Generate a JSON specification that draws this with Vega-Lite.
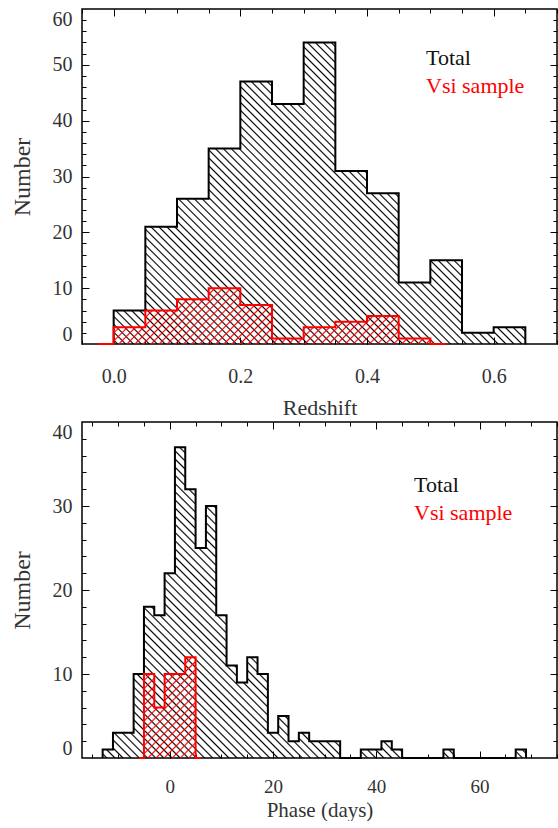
{
"$schema":"https://vega.github.io/schema/vega-lite/v6.json",
"background":"white",
"padding":{"left":9,"top":7,"right":0,"bottom":0},
"params":[
{"name":"hk","value":{"gradient":"linear","x1":0,"y1":1,"x2":1.1273,"y2":0.1737,"stops":[
{"offset":0.0034,"color":"#0000"},{"offset":0.0056,"color":"#000"},{"offset":0.0078,"color":"#0000"},{"offset":0.0145,"color":"#0000"},{"offset":0.0167,"color":"#000"},{"offset":0.0189,"color":"#0000"},{"offset":0.0256,"color":"#0000"},{"offset":0.0278,"color":"#000"},{"offset":0.03,"color":"#0000"},{"offset":0.0367,"color":"#0000"},{"offset":0.0389,"color":"#000"},{"offset":0.0411,"color":"#0000"},{"offset":0.0478,"color":"#0000"},{"offset":0.05,"color":"#000"},{"offset":0.0522,"color":"#0000"},{"offset":0.0589,"color":"#0000"},{"offset":0.0611,"color":"#000"},{"offset":0.0633,"color":"#0000"},{"offset":0.07,"color":"#0000"},{"offset":0.0722,"color":"#000"},{"offset":0.0744,"color":"#0000"},{"offset":0.0811,"color":"#0000"},{"offset":0.0833,"color":"#000"},{"offset":0.0855,"color":"#0000"},{"offset":0.0922,"color":"#0000"},{"offset":0.0944,"color":"#000"},{"offset":0.0966,"color":"#0000"},
{"offset":0.1034,"color":"#0000"},{"offset":0.1056,"color":"#000"},{"offset":0.1078,"color":"#0000"},{"offset":0.1145,"color":"#0000"},{"offset":0.1167,"color":"#000"},{"offset":0.1189,"color":"#0000"},{"offset":0.1256,"color":"#0000"},{"offset":0.1278,"color":"#000"},{"offset":0.13,"color":"#0000"},{"offset":0.1367,"color":"#0000"},{"offset":0.1389,"color":"#000"},{"offset":0.1411,"color":"#0000"},{"offset":0.1478,"color":"#0000"},{"offset":0.15,"color":"#000"},{"offset":0.1522,"color":"#0000"},{"offset":0.1589,"color":"#0000"},{"offset":0.1611,"color":"#000"},{"offset":0.1633,"color":"#0000"},{"offset":0.17,"color":"#0000"},{"offset":0.1722,"color":"#000"},{"offset":0.1744,"color":"#0000"},{"offset":0.1811,"color":"#0000"},{"offset":0.1833,"color":"#000"},{"offset":0.1855,"color":"#0000"},{"offset":0.1922,"color":"#0000"},{"offset":0.1944,"color":"#000"},{"offset":0.1966,"color":"#0000"},
{"offset":0.2034,"color":"#0000"},{"offset":0.2056,"color":"#000"},{"offset":0.2078,"color":"#0000"},{"offset":0.2145,"color":"#0000"},{"offset":0.2167,"color":"#000"},{"offset":0.2189,"color":"#0000"},{"offset":0.2256,"color":"#0000"},{"offset":0.2278,"color":"#000"},{"offset":0.23,"color":"#0000"},{"offset":0.2367,"color":"#0000"},{"offset":0.2389,"color":"#000"},{"offset":0.2411,"color":"#0000"},{"offset":0.2478,"color":"#0000"},{"offset":0.25,"color":"#000"},{"offset":0.2522,"color":"#0000"},{"offset":0.2589,"color":"#0000"},{"offset":0.2611,"color":"#000"},{"offset":0.2633,"color":"#0000"},{"offset":0.27,"color":"#0000"},{"offset":0.2722,"color":"#000"},{"offset":0.2744,"color":"#0000"},{"offset":0.2811,"color":"#0000"},{"offset":0.2833,"color":"#000"},{"offset":0.2855,"color":"#0000"},{"offset":0.2922,"color":"#0000"},{"offset":0.2944,"color":"#000"},{"offset":0.2966,"color":"#0000"},
{"offset":0.3034,"color":"#0000"},{"offset":0.3056,"color":"#000"},{"offset":0.3078,"color":"#0000"},{"offset":0.3145,"color":"#0000"},{"offset":0.3167,"color":"#000"},{"offset":0.3189,"color":"#0000"},{"offset":0.3256,"color":"#0000"},{"offset":0.3278,"color":"#000"},{"offset":0.33,"color":"#0000"},{"offset":0.3367,"color":"#0000"},{"offset":0.3389,"color":"#000"},{"offset":0.3411,"color":"#0000"},{"offset":0.3478,"color":"#0000"},{"offset":0.35,"color":"#000"},{"offset":0.3522,"color":"#0000"},{"offset":0.3589,"color":"#0000"},{"offset":0.3611,"color":"#000"},{"offset":0.3633,"color":"#0000"},{"offset":0.37,"color":"#0000"},{"offset":0.3722,"color":"#000"},{"offset":0.3744,"color":"#0000"},{"offset":0.3811,"color":"#0000"},{"offset":0.3833,"color":"#000"},{"offset":0.3855,"color":"#0000"},{"offset":0.3922,"color":"#0000"},{"offset":0.3944,"color":"#000"},{"offset":0.3966,"color":"#0000"},
{"offset":0.4034,"color":"#0000"},{"offset":0.4056,"color":"#000"},{"offset":0.4078,"color":"#0000"},{"offset":0.4145,"color":"#0000"},{"offset":0.4167,"color":"#000"},{"offset":0.4189,"color":"#0000"},{"offset":0.4256,"color":"#0000"},{"offset":0.4278,"color":"#000"},{"offset":0.43,"color":"#0000"},{"offset":0.4367,"color":"#0000"},{"offset":0.4389,"color":"#000"},{"offset":0.4411,"color":"#0000"},{"offset":0.4478,"color":"#0000"},{"offset":0.45,"color":"#000"},{"offset":0.4522,"color":"#0000"},{"offset":0.4589,"color":"#0000"},{"offset":0.4611,"color":"#000"},{"offset":0.4633,"color":"#0000"},{"offset":0.47,"color":"#0000"},{"offset":0.4722,"color":"#000"},{"offset":0.4744,"color":"#0000"},{"offset":0.4811,"color":"#0000"},{"offset":0.4833,"color":"#000"},{"offset":0.4855,"color":"#0000"},{"offset":0.4922,"color":"#0000"},{"offset":0.4944,"color":"#000"},{"offset":0.4966,"color":"#0000"},
{"offset":0.5034,"color":"#0000"},{"offset":0.5056,"color":"#000"},{"offset":0.5078,"color":"#0000"},{"offset":0.5145,"color":"#0000"},{"offset":0.5167,"color":"#000"},{"offset":0.5189,"color":"#0000"},{"offset":0.5256,"color":"#0000"},{"offset":0.5278,"color":"#000"},{"offset":0.53,"color":"#0000"},{"offset":0.5367,"color":"#0000"},{"offset":0.5389,"color":"#000"},{"offset":0.5411,"color":"#0000"},{"offset":0.5478,"color":"#0000"},{"offset":0.55,"color":"#000"},{"offset":0.5522,"color":"#0000"},{"offset":0.5589,"color":"#0000"},{"offset":0.5611,"color":"#000"},{"offset":0.5633,"color":"#0000"},{"offset":0.57,"color":"#0000"},{"offset":0.5722,"color":"#000"},{"offset":0.5744,"color":"#0000"},{"offset":0.5811,"color":"#0000"},{"offset":0.5833,"color":"#000"},{"offset":0.5855,"color":"#0000"},{"offset":0.5922,"color":"#0000"},{"offset":0.5944,"color":"#000"},{"offset":0.5966,"color":"#0000"},
{"offset":0.6034,"color":"#0000"},{"offset":0.6056,"color":"#000"},{"offset":0.6078,"color":"#0000"},{"offset":0.6145,"color":"#0000"},{"offset":0.6167,"color":"#000"},{"offset":0.6189,"color":"#0000"},{"offset":0.6256,"color":"#0000"},{"offset":0.6278,"color":"#000"},{"offset":0.63,"color":"#0000"},{"offset":0.6367,"color":"#0000"},{"offset":0.6389,"color":"#000"},{"offset":0.6411,"color":"#0000"},{"offset":0.6478,"color":"#0000"},{"offset":0.65,"color":"#000"},{"offset":0.6522,"color":"#0000"},{"offset":0.6589,"color":"#0000"},{"offset":0.6611,"color":"#000"},{"offset":0.6633,"color":"#0000"},{"offset":0.67,"color":"#0000"},{"offset":0.6722,"color":"#000"},{"offset":0.6744,"color":"#0000"},{"offset":0.6811,"color":"#0000"},{"offset":0.6833,"color":"#000"},{"offset":0.6855,"color":"#0000"},{"offset":0.6922,"color":"#0000"},{"offset":0.6944,"color":"#000"},{"offset":0.6966,"color":"#0000"},
{"offset":0.7034,"color":"#0000"},{"offset":0.7056,"color":"#000"},{"offset":0.7078,"color":"#0000"},{"offset":0.7145,"color":"#0000"},{"offset":0.7167,"color":"#000"},{"offset":0.7189,"color":"#0000"},{"offset":0.7256,"color":"#0000"},{"offset":0.7278,"color":"#000"},{"offset":0.73,"color":"#0000"},{"offset":0.7367,"color":"#0000"},{"offset":0.7389,"color":"#000"},{"offset":0.7411,"color":"#0000"},{"offset":0.7478,"color":"#0000"},{"offset":0.75,"color":"#000"},{"offset":0.7522,"color":"#0000"},{"offset":0.7589,"color":"#0000"},{"offset":0.7611,"color":"#000"},{"offset":0.7633,"color":"#0000"},{"offset":0.77,"color":"#0000"},{"offset":0.7722,"color":"#000"},{"offset":0.7744,"color":"#0000"},{"offset":0.7811,"color":"#0000"},{"offset":0.7833,"color":"#000"},{"offset":0.7855,"color":"#0000"},{"offset":0.7922,"color":"#0000"},{"offset":0.7944,"color":"#000"},{"offset":0.7966,"color":"#0000"},
{"offset":0.8034,"color":"#0000"},{"offset":0.8056,"color":"#000"},{"offset":0.8078,"color":"#0000"},{"offset":0.8145,"color":"#0000"},{"offset":0.8167,"color":"#000"},{"offset":0.8189,"color":"#0000"},{"offset":0.8256,"color":"#0000"},{"offset":0.8278,"color":"#000"},{"offset":0.83,"color":"#0000"},{"offset":0.8367,"color":"#0000"},{"offset":0.8389,"color":"#000"},{"offset":0.8411,"color":"#0000"},{"offset":0.8478,"color":"#0000"},{"offset":0.85,"color":"#000"},{"offset":0.8522,"color":"#0000"},{"offset":0.8589,"color":"#0000"},{"offset":0.8611,"color":"#000"},{"offset":0.8633,"color":"#0000"},{"offset":0.87,"color":"#0000"},{"offset":0.8722,"color":"#000"},{"offset":0.8744,"color":"#0000"},{"offset":0.8811,"color":"#0000"},{"offset":0.8833,"color":"#000"},{"offset":0.8855,"color":"#0000"},{"offset":0.8922,"color":"#0000"},{"offset":0.8944,"color":"#000"},{"offset":0.8966,"color":"#0000"},
{"offset":0.9034,"color":"#0000"},{"offset":0.9056,"color":"#000"},{"offset":0.9078,"color":"#0000"},{"offset":0.9145,"color":"#0000"},{"offset":0.9167,"color":"#000"},{"offset":0.9189,"color":"#0000"},{"offset":0.9256,"color":"#0000"},{"offset":0.9278,"color":"#000"},{"offset":0.93,"color":"#0000"},{"offset":0.9367,"color":"#0000"},{"offset":0.9389,"color":"#000"},{"offset":0.9411,"color":"#0000"},{"offset":0.9478,"color":"#0000"},{"offset":0.95,"color":"#000"},{"offset":0.9522,"color":"#0000"},{"offset":0.9589,"color":"#0000"},{"offset":0.9611,"color":"#000"},{"offset":0.9633,"color":"#0000"},{"offset":0.97,"color":"#0000"},{"offset":0.9722,"color":"#000"},{"offset":0.9744,"color":"#0000"},{"offset":0.9811,"color":"#0000"},{"offset":0.9833,"color":"#000"},{"offset":0.9855,"color":"#0000"},{"offset":0.9922,"color":"#0000"},{"offset":0.9944,"color":"#000"},{"offset":0.9966,"color":"#0000"}
]}},
{"name":"hr1","value":{"gradient":"linear","x1":0,"y1":0,"x2":1.1312,"y2":0.1813,"stops":[
{"offset":0.006,"color":"#f000"},{"offset":0.01,"color":"#f00"},{"offset":0.014,"color":"#f000"},{"offset":0.026,"color":"#f000"},{"offset":0.03,"color":"#f00"},{"offset":0.034,"color":"#f000"},{"offset":0.046,"color":"#f000"},{"offset":0.05,"color":"#f00"},{"offset":0.054,"color":"#f000"},{"offset":0.066,"color":"#f000"},{"offset":0.07,"color":"#f00"},{"offset":0.074,"color":"#f000"},{"offset":0.086,"color":"#f000"},{"offset":0.09,"color":"#f00"},{"offset":0.094,"color":"#f000"},
{"offset":0.106,"color":"#f000"},{"offset":0.11,"color":"#f00"},{"offset":0.114,"color":"#f000"},{"offset":0.126,"color":"#f000"},{"offset":0.13,"color":"#f00"},{"offset":0.134,"color":"#f000"},{"offset":0.146,"color":"#f000"},{"offset":0.15,"color":"#f00"},{"offset":0.154,"color":"#f000"},{"offset":0.166,"color":"#f000"},{"offset":0.17,"color":"#f00"},{"offset":0.174,"color":"#f000"},{"offset":0.186,"color":"#f000"},{"offset":0.19,"color":"#f00"},{"offset":0.194,"color":"#f000"},
{"offset":0.206,"color":"#f000"},{"offset":0.21,"color":"#f00"},{"offset":0.214,"color":"#f000"},{"offset":0.226,"color":"#f000"},{"offset":0.23,"color":"#f00"},{"offset":0.234,"color":"#f000"},{"offset":0.246,"color":"#f000"},{"offset":0.25,"color":"#f00"},{"offset":0.254,"color":"#f000"},{"offset":0.266,"color":"#f000"},{"offset":0.27,"color":"#f00"},{"offset":0.274,"color":"#f000"},{"offset":0.286,"color":"#f000"},{"offset":0.29,"color":"#f00"},{"offset":0.294,"color":"#f000"},
{"offset":0.306,"color":"#f000"},{"offset":0.31,"color":"#f00"},{"offset":0.314,"color":"#f000"},{"offset":0.326,"color":"#f000"},{"offset":0.33,"color":"#f00"},{"offset":0.334,"color":"#f000"},{"offset":0.346,"color":"#f000"},{"offset":0.35,"color":"#f00"},{"offset":0.354,"color":"#f000"},{"offset":0.366,"color":"#f000"},{"offset":0.37,"color":"#f00"},{"offset":0.374,"color":"#f000"},{"offset":0.386,"color":"#f000"},{"offset":0.39,"color":"#f00"},{"offset":0.394,"color":"#f000"},
{"offset":0.406,"color":"#f000"},{"offset":0.41,"color":"#f00"},{"offset":0.414,"color":"#f000"},{"offset":0.426,"color":"#f000"},{"offset":0.43,"color":"#f00"},{"offset":0.434,"color":"#f000"},{"offset":0.446,"color":"#f000"},{"offset":0.45,"color":"#f00"},{"offset":0.454,"color":"#f000"},{"offset":0.466,"color":"#f000"},{"offset":0.47,"color":"#f00"},{"offset":0.474,"color":"#f000"},{"offset":0.486,"color":"#f000"},{"offset":0.49,"color":"#f00"},{"offset":0.494,"color":"#f000"},
{"offset":0.506,"color":"#f000"},{"offset":0.51,"color":"#f00"},{"offset":0.514,"color":"#f000"},{"offset":0.526,"color":"#f000"},{"offset":0.53,"color":"#f00"},{"offset":0.534,"color":"#f000"},{"offset":0.546,"color":"#f000"},{"offset":0.55,"color":"#f00"},{"offset":0.554,"color":"#f000"},{"offset":0.566,"color":"#f000"},{"offset":0.57,"color":"#f00"},{"offset":0.574,"color":"#f000"},{"offset":0.586,"color":"#f000"},{"offset":0.59,"color":"#f00"},{"offset":0.594,"color":"#f000"},
{"offset":0.606,"color":"#f000"},{"offset":0.61,"color":"#f00"},{"offset":0.614,"color":"#f000"},{"offset":0.626,"color":"#f000"},{"offset":0.63,"color":"#f00"},{"offset":0.634,"color":"#f000"},{"offset":0.646,"color":"#f000"},{"offset":0.65,"color":"#f00"},{"offset":0.654,"color":"#f000"},{"offset":0.666,"color":"#f000"},{"offset":0.67,"color":"#f00"},{"offset":0.674,"color":"#f000"},{"offset":0.686,"color":"#f000"},{"offset":0.69,"color":"#f00"},{"offset":0.694,"color":"#f000"},
{"offset":0.706,"color":"#f000"},{"offset":0.71,"color":"#f00"},{"offset":0.714,"color":"#f000"},{"offset":0.726,"color":"#f000"},{"offset":0.73,"color":"#f00"},{"offset":0.734,"color":"#f000"},{"offset":0.746,"color":"#f000"},{"offset":0.75,"color":"#f00"},{"offset":0.754,"color":"#f000"},{"offset":0.766,"color":"#f000"},{"offset":0.77,"color":"#f00"},{"offset":0.774,"color":"#f000"},{"offset":0.786,"color":"#f000"},{"offset":0.79,"color":"#f00"},{"offset":0.794,"color":"#f000"},
{"offset":0.806,"color":"#f000"},{"offset":0.81,"color":"#f00"},{"offset":0.814,"color":"#f000"},{"offset":0.826,"color":"#f000"},{"offset":0.83,"color":"#f00"},{"offset":0.834,"color":"#f000"},{"offset":0.846,"color":"#f000"},{"offset":0.85,"color":"#f00"},{"offset":0.854,"color":"#f000"},{"offset":0.866,"color":"#f000"},{"offset":0.87,"color":"#f00"},{"offset":0.874,"color":"#f000"},{"offset":0.886,"color":"#f000"},{"offset":0.89,"color":"#f00"},{"offset":0.894,"color":"#f000"},
{"offset":0.906,"color":"#f000"},{"offset":0.91,"color":"#f00"},{"offset":0.914,"color":"#f000"},{"offset":0.926,"color":"#f000"},{"offset":0.93,"color":"#f00"},{"offset":0.934,"color":"#f000"},{"offset":0.946,"color":"#f000"},{"offset":0.95,"color":"#f00"},{"offset":0.954,"color":"#f000"},{"offset":0.966,"color":"#f000"},{"offset":0.97,"color":"#f00"},{"offset":0.974,"color":"#f000"},{"offset":0.986,"color":"#f000"},{"offset":0.99,"color":"#f00"},{"offset":0.994,"color":"#f000"}
]}},
{"name":"hr2","value":{"gradient":"linear","x1":0,"y1":0,"x2":0.7203,"y2":1.1719,"stops":[
{"offset":0.015,"color":"#f000"},{"offset":0.025,"color":"#f00"},{"offset":0.035,"color":"#f000"},{"offset":0.065,"color":"#f000"},{"offset":0.075,"color":"#f00"},{"offset":0.085,"color":"#f000"},
{"offset":0.115,"color":"#f000"},{"offset":0.125,"color":"#f00"},{"offset":0.135,"color":"#f000"},{"offset":0.165,"color":"#f000"},{"offset":0.175,"color":"#f00"},{"offset":0.185,"color":"#f000"},
{"offset":0.215,"color":"#f000"},{"offset":0.225,"color":"#f00"},{"offset":0.235,"color":"#f000"},{"offset":0.265,"color":"#f000"},{"offset":0.275,"color":"#f00"},{"offset":0.285,"color":"#f000"},
{"offset":0.315,"color":"#f000"},{"offset":0.325,"color":"#f00"},{"offset":0.335,"color":"#f000"},{"offset":0.365,"color":"#f000"},{"offset":0.375,"color":"#f00"},{"offset":0.385,"color":"#f000"},
{"offset":0.415,"color":"#f000"},{"offset":0.425,"color":"#f00"},{"offset":0.435,"color":"#f000"},{"offset":0.465,"color":"#f000"},{"offset":0.475,"color":"#f00"},{"offset":0.485,"color":"#f000"},
{"offset":0.515,"color":"#f000"},{"offset":0.525,"color":"#f00"},{"offset":0.535,"color":"#f000"},{"offset":0.565,"color":"#f000"},{"offset":0.575,"color":"#f00"},{"offset":0.585,"color":"#f000"},
{"offset":0.615,"color":"#f000"},{"offset":0.625,"color":"#f00"},{"offset":0.635,"color":"#f000"},{"offset":0.665,"color":"#f000"},{"offset":0.675,"color":"#f00"},{"offset":0.685,"color":"#f000"},
{"offset":0.715,"color":"#f000"},{"offset":0.725,"color":"#f00"},{"offset":0.735,"color":"#f000"},{"offset":0.765,"color":"#f000"},{"offset":0.775,"color":"#f00"},{"offset":0.785,"color":"#f000"},
{"offset":0.815,"color":"#f000"},{"offset":0.825,"color":"#f00"},{"offset":0.835,"color":"#f000"},{"offset":0.865,"color":"#f000"},{"offset":0.875,"color":"#f00"},{"offset":0.885,"color":"#f000"},
{"offset":0.915,"color":"#f000"},{"offset":0.925,"color":"#f00"},{"offset":0.935,"color":"#f000"},{"offset":0.965,"color":"#f000"},{"offset":0.975,"color":"#f00"},{"offset":0.985,"color":"#f000"}
]}}
],
"datasets":{
"tz":[{"x":0,"n":0},{"x":0,"n":6},{"x":0.05,"n":21},{"x":0.1,"n":26},{"x":0.15,"n":35},{"x":0.2,"n":47},{"x":0.25,"n":43},{"x":0.3,"n":54},{"x":0.35,"n":31},{"x":0.4,"n":27},{"x":0.45,"n":11},{"x":0.5,"n":15},{"x":0.55,"n":2},{"x":0.6,"n":3},{"x":0.65,"n":0}],
"tv":[{"x":-0.025,"n":0},{"x":0,"n":3},{"x":0.05,"n":6},{"x":0.1,"n":8},{"x":0.15,"n":10},{"x":0.2,"n":7},{"x":0.25,"n":1},{"x":0.3,"n":3},{"x":0.35,"n":4},{"x":0.4,"n":5},{"x":0.45,"n":1},{"x":0.5,"n":0},{"x":0.525,"n":0}],
"bz":[{"x":-13,"n":0},{"x":-13,"n":1},{"x":-11,"n":3},{"x":-9,"n":3},{"x":-7,"n":10},{"x":-5,"n":18},{"x":-3,"n":17},{"x":-1,"n":22},{"x":1,"n":37},{"x":3,"n":32},{"x":5,"n":25},{"x":7,"n":30},{"x":9,"n":17},{"x":11,"n":11},{"x":13,"n":9},{"x":15,"n":12},{"x":17,"n":10},{"x":19,"n":3},{"x":21,"n":5},{"x":23,"n":2},{"x":25,"n":3},{"x":27,"n":2},{"x":29,"n":2},{"x":31,"n":2},{"x":33,"n":0},{"x":35,"n":0},{"x":37,"n":1},{"x":39,"n":1},{"x":41,"n":2},{"x":43,"n":1},{"x":45,"n":0},{"x":47,"n":0},{"x":49,"n":0},{"x":51,"n":0},{"x":53,"n":1},{"x":55,"n":0},{"x":57,"n":0},{"x":59,"n":0},{"x":61,"n":0},{"x":63,"n":0},{"x":65,"n":0},{"x":67,"n":1},{"x":69,"n":0}],
"bv":[{"x":-6,"n":0},{"x":-5,"n":10},{"x":-3,"n":6},{"x":-1,"n":10},{"x":1,"n":10},{"x":3,"n":12},{"x":5,"n":0},{"x":6,"n":0}]
},
"spacing":78,
"bounds":"flush",
"resolve":{"scale":{"stroke":"independent"},"legend":{"stroke":"independent"}},
"vconcat":[
{
"width":475,"height":335,
"resolve":{"axis":{"x":"independent","y":"independent"}},
"layer":[
{"data":{"name":"tz"},"mark":{"type":"area","orient":"vertical","interpolate":"step-after","fill":{"expr":"hk"},"opacity":1,"order":false},
"encoding":{
"x":{"field":"x","type":"quantitative","scale":{"domain":[-0.05,0.7],"nice":false,"zero":false},"axis":{"orient":"bottom","values":[0,0.2,0.4,0.6],"format":".1f","ticks":false,"labelPadding":22,"title":"Redshift","titlePadding":11}},
"y":{"field":"n","type":"quantitative","stack":null,"scale":{"domain":[0,60],"nice":false},"axis":{"orient":"left","values":[0,10,20,30,40,50,60],"ticks":false,"labelPadding":10,"labelFlush":true,"title":"Number","titleFontSize":24,"titlePadding":18}}}},
{"data":{"name":"tz"},"mark":{"type":"line","interpolate":"step-after","strokeWidth":2,"order":false},
"encoding":{
"x":{"field":"x","type":"quantitative","scale":{"domain":[-0.05,0.7],"nice":false,"zero":false},"axis":{"orient":"bottom","values":[0,0.2,0.4,0.6],"labels":false,"tickSize":-7,"title":null}},
"y":{"field":"n","type":"quantitative","scale":{"domain":[0,60],"nice":false},"axis":{"orient":"left","values":[10,20,30,40,50],"labels":false,"tickSize":-7,"title":null}},
"stroke":{"datum":"Total","type":"nominal","scale":{"domain":["Total","Vsi sample"],"range":["#000","#f00"]},"legend":{"orient":"none","legendX":322,"legendY":38,"title":null,"padding":0,"labelFont":"Liberation Serif","labelFontSize":22,"labelColor":{"expr":"datum.value === 'Total' ? '#111' : '#f00'"},"symbolSize":0,"symbolOpacity":0,"symbolStrokeWidth":0,"labelOffset":0,"rowPadding":6}}}},
{"data":{"name":"tv"},"mark":{"type":"area","orient":"vertical","interpolate":"step-after","fill":{"expr":"hr1"},"opacity":1,"order":false},
"encoding":{
"x":{"field":"x","type":"quantitative","scale":{"domain":[-0.05,0.7],"nice":false,"zero":false},"axis":{"orient":"bottom","values":[-0.05,0,0.05,0.1,0.15,0.2,0.25,0.3,0.35,0.4,0.45,0.5,0.55,0.6,0.65,0.7],"labels":false,"tickSize":-4,"title":null}},
"y":{"field":"n","type":"quantitative","stack":null,"scale":{"domain":[0,60],"nice":false},"axis":{"orient":"left","values":[2,4,6,8,10,12,14,16,18,20,22,24,26,28,30,32,34,36,38,40,42,44,46,48,50,52,54,56,58],"labels":false,"tickSize":-4,"title":null}}}},
{"data":{"name":"tv"},"mark":{"type":"line","interpolate":"step-after","strokeWidth":2,"order":false},
"encoding":{
"x":{"field":"x","type":"quantitative","scale":{"domain":[-0.05,0.7],"nice":false,"zero":false},"axis":{"orient":"top","values":[0,0.2,0.4,0.6],"labels":false,"tickSize":-7,"title":null}},
"y":{"field":"n","type":"quantitative","scale":{"domain":[0,60],"nice":false},"axis":{"orient":"right","values":[10,20,30,40,50],"labels":false,"tickSize":-7,"title":null}},
"stroke":{"datum":"Vsi sample","type":"nominal"}}},
{"data":{"name":"tz"},"mark":{"type":"point","opacity":0},
"encoding":{
"x":{"field":"x","type":"quantitative","scale":{"domain":[-0.05,0.7],"nice":false,"zero":false},"axis":{"orient":"top","values":[-0.05,0,0.05,0.1,0.15,0.2,0.25,0.3,0.35,0.4,0.45,0.5,0.55,0.6,0.65,0.7],"labels":false,"tickSize":-4,"title":null}},
"y":{"field":"n","type":"quantitative","scale":{"domain":[0,60],"nice":false},"axis":{"orient":"right","values":[2,4,6,8,10,12,14,16,18,20,22,24,26,28,30,32,34,36,38,40,42,44,46,48,50,52,54,56,58],"labels":false,"tickSize":-4,"title":null}}}}
]
},
{
"width":475,"height":336,
"resolve":{"axis":{"x":"independent","y":"independent"}},
"layer":[
{"data":{"name":"bz"},"mark":{"type":"area","orient":"vertical","interpolate":"step-after","fill":{"expr":"hk"},"opacity":1,"order":false},
"encoding":{
"x":{"field":"x","type":"quantitative","scale":{"domain":[-17,75],"nice":false,"zero":false},"axis":{"orient":"bottom","values":[0,20,40,60],"format":"d","ticks":false,"labelPadding":19,"labelFontSize":19,"title":"Phase (days)","titleFontSize":21,"titlePadding":3}},
"y":{"field":"n","type":"quantitative","stack":null,"scale":{"domain":[0,40],"nice":false},"axis":{"orient":"left","values":[0,10,20,30,40],"ticks":false,"labelPadding":10,"labelFlush":true,"title":"Number","titleFontSize":24,"titlePadding":18}}}},
{"data":{"name":"bz"},"mark":{"type":"line","interpolate":"step-after","strokeWidth":2,"order":false},
"encoding":{
"x":{"field":"x","type":"quantitative","scale":{"domain":[-17,75],"nice":false,"zero":false},"axis":{"orient":"bottom","values":[0,20,40,60],"labels":false,"tickSize":-7,"title":null}},
"y":{"field":"n","type":"quantitative","scale":{"domain":[0,40],"nice":false},"axis":{"orient":"left","values":[10,20,30],"labels":false,"tickSize":-7,"title":null}},
"stroke":{"datum":"Total","type":"nominal","scale":{"domain":["Total","Vsi sample"],"range":["#000","#f00"]},"legend":{"orient":"none","legendX":310,"legendY":52,"title":null,"padding":0,"labelFont":"Liberation Serif","labelFontSize":22,"labelColor":{"expr":"datum.value === 'Total' ? '#111' : '#f00'"},"symbolSize":0,"symbolOpacity":0,"symbolStrokeWidth":0,"labelOffset":0,"rowPadding":6}}}},
{"data":{"name":"bv"},"mark":{"type":"area","orient":"vertical","interpolate":"step-after","fill":{"expr":"hr2"},"opacity":1,"order":false},
"encoding":{
"x":{"field":"x","type":"quantitative","scale":{"domain":[-17,75],"nice":false,"zero":false},"axis":{"orient":"bottom","values":[-15,-10,-5,0,5,10,15,20,25,30,35,40,45,50,55,60,65,70,75],"labels":false,"tickSize":-4,"title":null}},
"y":{"field":"n","type":"quantitative","stack":null,"scale":{"domain":[0,40],"nice":false},"axis":{"orient":"left","values":[2,4,6,8,10,12,14,16,18,20,22,24,26,28,30,32,34,36,38],"labels":false,"tickSize":-4,"title":null}}}},
{"data":{"name":"bv"},"mark":{"type":"line","interpolate":"step-after","strokeWidth":2,"order":false},
"encoding":{
"x":{"field":"x","type":"quantitative","scale":{"domain":[-17,75],"nice":false,"zero":false},"axis":{"orient":"top","values":[0,20,40,60],"labels":false,"tickSize":-7,"title":null}},
"y":{"field":"n","type":"quantitative","scale":{"domain":[0,40],"nice":false},"axis":{"orient":"right","values":[10,20,30],"labels":false,"tickSize":-7,"title":null}},
"stroke":{"datum":"Vsi sample","type":"nominal"}}},
{"data":{"name":"bz"},"mark":{"type":"point","opacity":0},
"encoding":{
"x":{"field":"x","type":"quantitative","scale":{"domain":[-17,75],"nice":false,"zero":false},"axis":{"orient":"top","values":[-15,-10,-5,0,5,10,15,20,25,30,35,40,45,50,55,60,65,70,75],"labels":false,"tickSize":-4,"title":null}},
"y":{"field":"n","type":"quantitative","scale":{"domain":[0,40],"nice":false},"axis":{"orient":"right","values":[2,4,6,8,10,12,14,16,18,20,22,24,26,28,30,32,34,36,38],"labels":false,"tickSize":-4,"title":null}}}}
]
}
],
"config":{
"font":"Liberation Serif",
"view":{"stroke":"#000","strokeWidth":1.5},
"axis":{"grid":false,"domain":false,"labelFont":"Liberation Serif","labelFontSize":20,"labelColor":"#333","titleFont":"Liberation Serif","titleFontSize":22,"titleFontWeight":"normal","titleColor":"#333","tickColor":"#000","tickWidth":1,"labelOverlap":false}
}
}
